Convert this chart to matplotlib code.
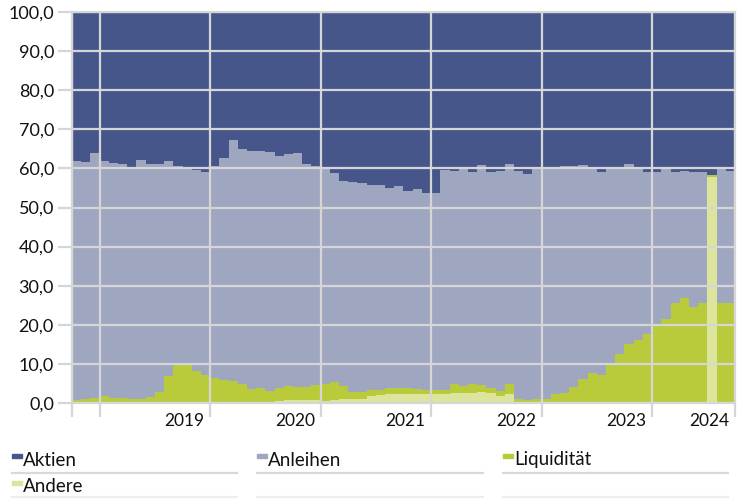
import matplotlib
matplotlib.use('Agg')
import matplotlib.pyplot as plt
from matplotlib.lines import Line2D
from matplotlib.patches import Rectangle
from matplotlib.ticker import FuncFormatter
import numpy as np

# monthly shares in %, Oct 2018 .. Sep 2024
andere = [0, 0, 0, 0, 0, 0, 0, 0, 0, 0, 0, 0,
          0, 0, 0, 0, 0, 0, 0, 0.3, 0.3, 0.3, 0.5, 0.7,
          0.8, 0.8, 0.8, 0.6, 0.8, 0.9, 1.1, 1.1, 1.9, 2.0, 2.2, 2.4,
          2.4, 2.4, 2.3, 2.2, 2.2, 2.5, 2.6, 2.6, 2.9, 2.6, 1.9, 2.4,
          0.1, 0.1, 0.1, 0.1, 0, 0, 0, 0, 0, 0, 0, 0,
          0, 0, 0, 0, 0, 0, 0, 0, 0, 57.8, 0, 0]
liquiditaet = [0.8, 0.9, 1.3, 1.8, 1.4, 1.2, 0.9, 0.9, 1.6, 2.7, 7.0, 9.6,
               9.6, 8.1, 7.1, 6.4, 6.0, 5.5, 4.8, 3.2, 3.5, 2.8, 3.4, 3.6,
               3.4, 3.4, 3.7, 4.2, 4.6, 3.4, 1.8, 1.8, 1.3, 1.3, 1.7, 1.4,
               1.4, 1.3, 1.1, 1.2, 1.0, 2.4, 1.8, 2.3, 1.6, 1.2, 1.1, 2.5,
               0.8, 0.7, 1.0, 0.8, 2.2, 2.6, 4.0, 6.1, 7.6, 7.2, 9.7, 12.5,
               15.2, 16.1, 17.6, 20.0, 21.5, 25.5, 26.9, 24.6, 25.6, 0.5, 25.6, 25.6]
anleihen = [61.1, 60.8, 62.6, 60.1, 60.0, 59.9, 59.5, 61.2, 59.6, 58.3, 54.8, 51.0,
            50.8, 51.5, 52.1, 54.2, 56.7, 61.7, 60.2, 61.0, 60.6, 61.2, 59.3, 59.5,
            59.7, 56.8, 56.0, 55.2, 53.3, 52.6, 53.7, 53.3, 52.6, 52.5, 51.2, 51.7,
            50.4, 51.0, 50.2, 50.2, 56.4, 54.4, 55.4, 54.3, 56.4, 55.4, 56.3, 56.1,
            58.5, 57.8, 58.7, 59.1, 57.8, 58.1, 56.7, 54.8, 52.4, 51.8, 50.1, 47.5,
            45.8, 43.9, 41.4, 39.0, 38.5, 33.5, 32.5, 34.6, 33.4, 0.1, 34.2, 33.8]
aktien = [38.1, 38.3, 36.1, 38.1, 38.6, 38.9, 39.6, 37.9, 38.8, 39.0, 38.2, 39.4,
          39.6, 40.4, 40.8, 39.4, 37.3, 32.8, 35.0, 35.5, 35.6, 35.7, 36.8, 36.2,
          36.1, 39.0, 39.5, 40.0, 41.3, 43.1, 43.4, 43.8, 44.2, 44.2, 44.9, 44.5,
          45.8, 45.3, 46.4, 46.4, 40.4, 40.7, 40.2, 40.8, 39.1, 40.8, 40.7, 39.0,
          40.6, 41.4, 40.2, 40.0, 40.0, 39.3, 39.3, 39.1, 40.0, 41.0, 40.2, 40.0,
          39.0, 40.0, 41.0, 41.0, 40.0, 41.0, 40.6, 40.8, 41.0, 41.6, 40.2, 40.6]

series = [('Andere', andere), ('Liquidität', liquiditaet),
          ('Anleihen', anleihen), ('Aktien', aktien)]
years = ['2019', '2020', '2021', '2022', '2023', '2024']
year_start = [3, 15, 27, 39, 51, 63]   # month index where each year begins
n_months = 72

colors = {'Aktien': '#46568a', 'Anleihen': '#9fa6c0',
          'Liquidität': '#b9cb3a', 'Andere': '#dce59b'}
grid_col = '#d6d6d6'

plt.rcParams['font.family'] = ['Lato', 'DejaVu Sans']

W, H = 742, 499
fig = plt.figure(figsize=(W / 100, H / 100), dpi=100)
ax = fig.add_axes([72 / W, 1 - 403 / H, (735 - 72) / W, (403 - 12) / H])

edges = np.arange(n_months + 1)
bottom = np.zeros(n_months)
for name, vals in series:
    top = bottom + np.array(vals, dtype=float)
    ax.stairs(top, edges, baseline=bottom.copy(), fill=True,
              color=colors[name], linewidth=0, zorder=1)
    bottom = top

ax.set_xlim(0, n_months)
ax.set_ylim(0, 100)
ax.set_yticks(np.arange(0, 101, 10))
ax.yaxis.set_major_formatter(FuncFormatter(lambda v, p: f'{v:.1f}'.replace('.', ',')))
ax.set_xticks([0] + year_start + [n_months])
ax.set_xticklabels([])
ax.grid(True, color=grid_col, linewidth=1.6, zorder=3)
ax.set_axisbelow(False)
ax.tick_params(axis='both', length=10, width=1.6, color=grid_col,
               labelsize=13, labelcolor='#111111')
ax.tick_params(axis='y', pad=3)
for s in ax.spines.values():
    s.set_color(grid_col)
    s.set_linewidth(1.6)

# year labels sit right-aligned at the end of each year
ends = year_start[1:] + [n_months]
for lab, e in zip(years, ends):
    ax.annotate(lab, xy=(e, 0), xycoords=('data', 'axes fraction'),
                xytext=(-4, -13), textcoords='offset points',
                ha='right', va='center', fontsize=12.5, color='#111111')


def fx(px):
    return px / W


def fy(py):
    return 1 - py / H


legend = [('Aktien', 12, 460, 237), ('Anleihen', 257, 460, 483),
          ('Liquidität', 503, 460, 728), ('Andere', 12, 487, 237)]
for name, x0, yc, x1 in legend:
    fig.patches.append(Rectangle((fx(x0), fy(yc - 2)), 10 / W, 4 / H,
                                 transform=fig.transFigure, color=colors[name]))
    fig.text(fx(x0 + 11), fy(yc), name, fontsize=13.5, va='center', ha='left',
             color='#111111')
for yl, c in [(473, '#d9d9d9'), (497, '#eeeeee')]:
    for x0, x1 in [(12, 237), (257, 483), (503, 728)]:
        fig.lines.append(Line2D([fx(x0), fx(x1)], [fy(yl), fy(yl)],
                                transform=fig.transFigure, color=c, linewidth=1.6))

fig.savefig('out.png', dpi=100)
